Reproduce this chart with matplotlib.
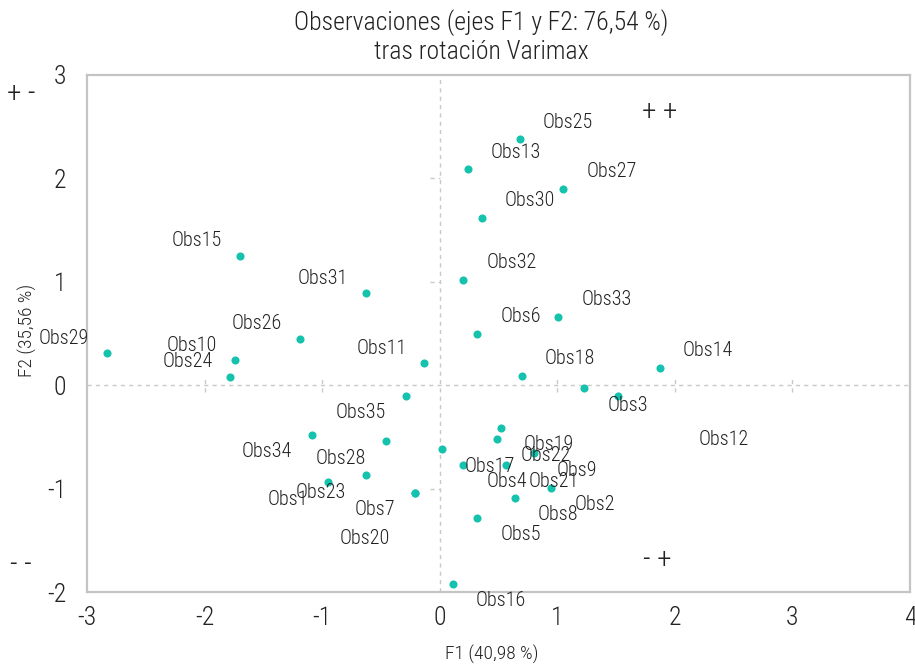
import matplotlib
matplotlib.use('Agg')
from matplotlib import pyplot as plt

plt.rcParams['font.family'] = ['Roboto Condensed', 'DejaVu Sans']
plt.rcParams['font.weight'] = 'light'
plt.rcParams['axes.unicode_minus'] = False

# observaciones (F1, F2) tras rotacion Varimax
names = ['Obs1', 'Obs2', 'Obs3', 'Obs4', 'Obs5', 'Obs6', 'Obs7', 'Obs8', 'Obs9', 'Obs10',
         'Obs11', 'Obs12', 'Obs13', 'Obs14', 'Obs15', 'Obs16', 'Obs17', 'Obs18', 'Obs19', 'Obs20',
         'Obs21', 'Obs22', 'Obs23', 'Obs24', 'Obs25', 'Obs26', 'Obs27', 'Obs28', 'Obs29', 'Obs30',
         'Obs31', 'Obs32', 'Obs33', 'Obs34', 'Obs35']
f1 = [-0.95, 0.95, 1.23, 0.20, 0.32, 0.32, -0.21, 0.64, 0.80, -1.74,
      -0.13, 1.52, 0.24, 1.87, -1.70, 0.11, 0.02, 0.70, 0.52, -0.21,
      0.56, 0.49, -0.63, -1.78, 0.68, -1.19, 1.05, -0.46, -2.83, 0.36,
      -0.63, 0.20, 1.01, -1.09, -0.29]
f2 = [-0.94, -0.99, -0.03, -0.77, -1.28, 0.50, -1.04, -1.09, -0.66, 0.24,
      0.21, -0.10, 2.09, 0.17, 1.25, -1.92, -0.62, 0.09, -0.41, -1.04,
      -0.77, -0.52, -0.87, 0.08, 2.38, 0.45, 1.90, -0.54, 0.31, 1.62,
      0.89, 1.02, 0.66, -0.48, -0.10]

xticks = [-3, -2, -1, 0, 1, 2, 3, 4]
yticks = [-2, -1, 0, 1, 2, 3]

# donde va cada etiqueta respecto al punto
place = {'ru': (23, 17, 'left'), 'rd': (23, -17, 'left'),
         'lu': (-18, 15, 'right'), 'ld': (-20, -17, 'right'),
         'far12': (80, -44, 'left'), 'far20': (-25, -46, 'right')}
where = ['ld', 'rd', 'rd', 'rd', 'rd', 'ru', 'ld', 'rd', 'rd', 'lu',
         'lu', 'far12', 'ru', 'ru', 'lu', 'rd', 'rd', 'ru', 'rd', 'far20',
         'rd', 'rd', 'ld', 'lu', 'ru', 'lu', 'ru', 'ld', 'lu', 'ru',
         'lu', 'ru', 'ru', 'ld', 'ld']

W, H = 915, 664
fig = plt.figure(figsize=(W / 100, H / 100), dpi=100)
ax = fig.add_axes([87 / W, 1 - 592 / H, (910 - 87) / W, (592 - 75) / H])

grey = '#c8c8c8'
txt = '#222222'

ax.axhline(0, color=grey, lw=1, ls=(0, (3, 3)), zorder=1)
ax.axvline(0, color=grey, lw=1, ls=(0, (3, 3)), zorder=1)
for t in xticks:
    if t not in (0, xticks[0], xticks[-1]):
        ax.plot([t, t], [-0.07, 0.08], color=grey, lw=1, ls=(0, (3, 3)), zorder=1)
for t in yticks:
    if t not in (0, yticks[0], yticks[-1]):
        ax.plot([-0.08, 0.0], [t, t], color=grey, lw=1, ls=(0, (3, 3)), zorder=1)

ax.scatter(f1, f2, s=34, color='#14c2ad', zorder=3, linewidths=0)

for n, x, y, w in zip(names, f1, f2, where):
    dx, dy, ha = place[w]
    ax.annotate(n, (x, y), xytext=(dx, dy), textcoords='offset pixels',
                ha=ha, va='center', fontsize=14.5, color=txt)

ax.text(1.87, 2.64, '+ +', fontsize=21, color=txt, ha='center', va='center')
ax.text(1.85, -1.69, '- +', fontsize=21, color=txt, ha='center', va='center')
fig.text(21 / W, 1 - 94 / H, '+ -', fontsize=21, color=txt, ha='center', va='center')
fig.text(21 / W, 1 - 565 / H, '- -', fontsize=21, color=txt, ha='center', va='center')

ax.set_xlim(-3, 4)
ax.set_ylim(-2, 3)
ax.set_xticks(xticks)
ax.set_yticks(yticks)
ax.tick_params(axis='y', length=0, labelsize=18.5, labelcolor=txt, pad=15)
ax.tick_params(axis='x', length=0, labelsize=18.5, labelcolor=txt, pad=10)
for s in ax.spines.values():
    s.set_color('#c4c4c4')
    s.set_linewidth(1.6)

fig.text(492 / W, 1 - 654 / H, 'F1 (40,98 %)', fontsize=14, color=txt,
         ha='center', va='center')
fig.text(27 / W, 1 - 330 / H, 'F2 (35,56 %)', fontsize=14, color=txt,
         ha='center', va='center', rotation=90)
fig.text(481 / W, 1 - 9 / H, 'Observaciones (ejes F1 y F2: 76,54 %)\ntras rotación Varimax',
         fontsize=18.5, color=txt, ha='center', va='top', linespacing=1.2, multialignment='center')

fig.savefig('out.png', dpi=100)
